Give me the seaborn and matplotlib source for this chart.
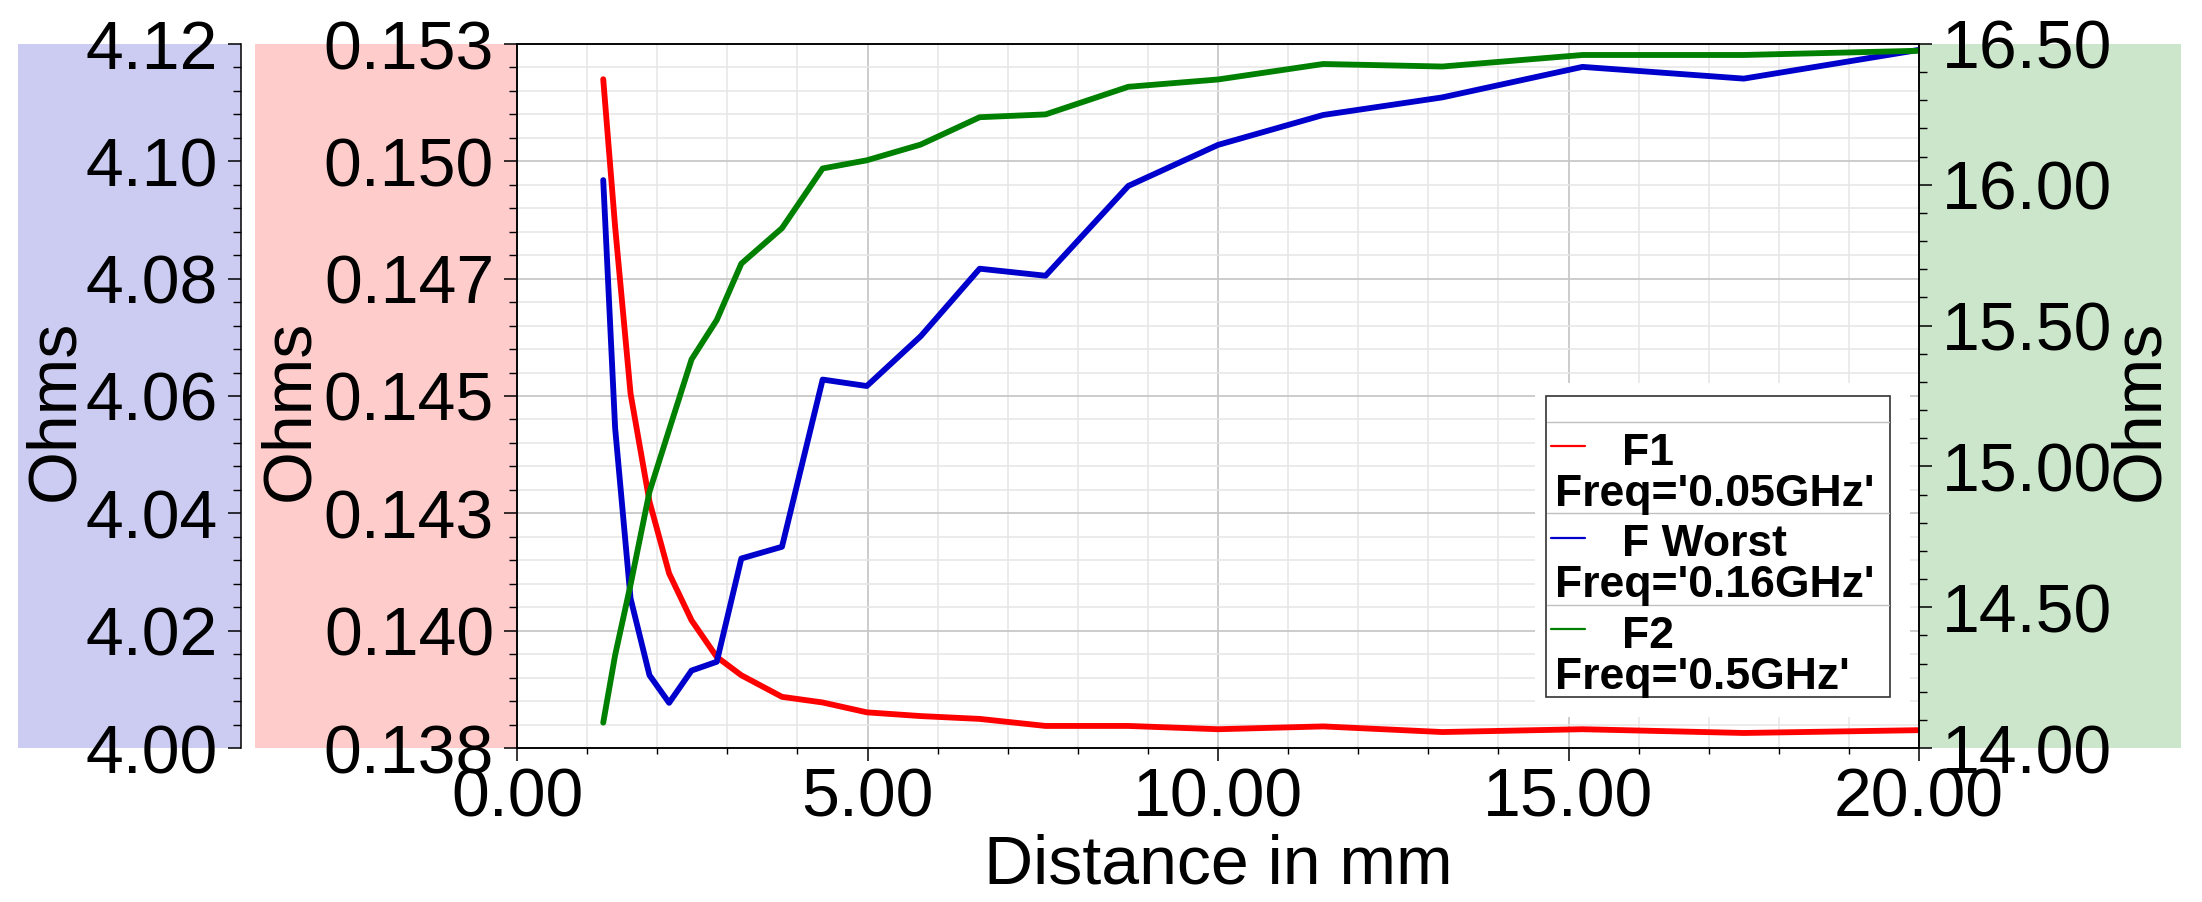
import numpy as np
import pandas as pd
import seaborn as sb
import matplotlib.pyplot as plt
from matplotlib.patches import Rectangle
from matplotlib.lines import Line2D
from matplotlib.ticker import FixedLocator, FixedFormatter, FormatStrFormatter

# distance sweep (mm) and the three impedance curves (Ohms)
distance = [1.23, 1.40, 1.62, 1.89, 2.17, 2.49, 2.85, 3.20, 3.78, 4.36, 4.99,
            5.76, 6.60, 7.54, 8.72, 10.0, 11.5, 13.2, 15.2, 17.5, 20.0]
f1_ohms = [0.15175, 0.14860, 0.14505, 0.14275, 0.14122, 0.14022, 0.13944,
           0.13905, 0.13859, 0.13847, 0.13826, 0.13818, 0.13812, 0.13797,
           0.13797, 0.13790, 0.13796, 0.13784, 0.13790, 0.13782, 0.13788]
fworst_ohms = [4.0968, 4.0545, 4.0255, 4.0124, 4.0077, 4.0132, 4.0147, 4.0323,
               4.0343, 4.0628, 4.0617, 4.0702, 4.0817, 4.0805, 4.0958, 4.1028,
               4.1079, 4.1109, 4.1161, 4.1141, 4.1190]
f2_ohms = [14.09, 14.33, 14.58, 14.91, 15.13, 15.38, 15.52, 15.72, 15.846,
           16.058, 16.087, 16.143, 16.24, 16.25, 16.348, 16.374, 16.429,
           16.42, 16.461, 16.461, 16.476]

legend_names = ["F1", "F Worst", "F2"]
legend_freqs = ["Freq='0.05GHz'", "Freq='0.16GHz'", "Freq='0.5GHz'"]
line_colors = ["#FF0000", "#0000CC", "#008000"]

red_labels = ["0.138", "0.140", "0.143", "0.145", "0.147", "0.150", "0.153"]

df = pd.DataFrame({"dist": distance, "f1": f1_ohms, "fw": fworst_ohms, "f2": f2_ohms})

sb.set_style("ticks")
plt.rcParams["font.family"] = ["Liberation Sans", "DejaVu Sans"]
plt.rcParams["text.color"] = "black"
plt.rcParams["axes.labelcolor"] = "black"
plt.rcParams["xtick.color"] = "black"
plt.rcParams["ytick.color"] = "black"

W, H = 2202, 902
L, R, T, B = 517, 1919, 44, 748

def fx(px):
    return px / W

def fy(py):
    return 1 - py / H

def axx(px):
    return (px - L) / (R - L)

def axy(py):
    return (B - py) / (B - T)

fig = plt.figure(figsize=(W / 100, H / 100), dpi=100)
ax = fig.add_axes([fx(L), fy(B), (R - L) / W, (B - T) / H])

# coloured panels behind the three y axes
for x0, x1, col in [(18, 241, "#CCCCF2"), (255, 517, "#FFCCCC"), (1919, 2181, "#CCE6CC")]:
    fig.add_artist(Rectangle((fx(x0), fy(B)), (x1 - x0) / W, (B - T) / H,
                             transform=fig.transFigure, facecolor=col,
                             edgecolor="none", zorder=-5))

ax_b = ax.twinx()
ax_g = ax.twinx()

sb.lineplot(data=df, x="dist", y="f1", ax=ax, color=line_colors[0], linewidth=4.2, legend=False)
sb.lineplot(data=df, x="dist", y="fw", ax=ax_b, color=line_colors[1], linewidth=4.2, legend=False)
sb.lineplot(data=df, x="dist", y="f2", ax=ax_g, color=line_colors[2], linewidth=4.2, legend=False)

fs = 49
tick_kw = dict(direction="out", colors="black", labelsize=fs)

# x axis
ax.set_xlim(0, 20)
ax.xaxis.set_major_locator(FixedLocator([0, 5, 10, 15, 20]))
ax.xaxis.set_minor_locator(FixedLocator(np.arange(0, 21, 1)))
ax.xaxis.set_major_formatter(FormatStrFormatter("%.2f"))
ax.tick_params(axis="x", which="major", length=9.5, width=1.1, pad=4, **tick_kw)
ax.tick_params(axis="x", which="minor", length=4.5, width=1.0, colors="black")
ax.set_xlabel("Distance in mm", fontsize=fs, labelpad=2, color="black")

# red axis (inner left)
ax.set_ylim(0.1375, 0.1525)
ax.yaxis.set_major_locator(FixedLocator(np.linspace(0.1375, 0.1525, 7)))
ax.yaxis.set_major_formatter(FixedFormatter(red_labels))
ax.yaxis.set_minor_locator(FixedLocator(np.linspace(0.1375, 0.1525, 31)))
ax.tick_params(axis="y", which="major", length=9.5, width=1.1, pad=7, **tick_kw)
ax.tick_params(axis="y", which="minor", length=5.5, width=1.0, colors="black")
ax.set_ylabel("Ohms", fontsize=fs, color="black")
ax.yaxis.set_label_coords(axx(322), axy(410))

ax.grid(which="major", color="#C8C8C8", lw=1.3)
ax.grid(which="minor", color="#E6E6E6", lw=1.1)
ax.set_axisbelow(True)

# blue axis (outer left)
ax_b.set_ylim(4.00, 4.12)
ax_b.yaxis.tick_left()
ax_b.yaxis.set_label_position("left")
ax_b.spines["left"].set_position(("axes", axx(241)))
ax_b.spines["left"].set_visible(True)
for s in ["right", "top", "bottom"]:
    ax_b.spines[s].set_visible(False)
ax_b.yaxis.set_major_locator(FixedLocator(np.linspace(4.0, 4.12, 7)))
ax_b.yaxis.set_minor_locator(FixedLocator(np.linspace(4.0, 4.12, 31)))
ax_b.yaxis.set_major_formatter(FormatStrFormatter("%.2f"))
ax_b.tick_params(axis="y", which="major", length=9.5, width=1.1, pad=7, **tick_kw)
ax_b.tick_params(axis="y", which="minor", length=5.5, width=1.0, colors="black")
ax_b.set_ylabel("Ohms", fontsize=fs, color="black")
ax_b.yaxis.set_label_coords(axx(87), axy(410))

# green axis (right)
ax_g.set_ylim(14.0, 16.5)
ax_g.yaxis.set_major_locator(FixedLocator(np.arange(14.0, 16.51, 0.5)))
ax_g.yaxis.set_minor_locator(FixedLocator(np.linspace(14.0, 16.5, 26)))
ax_g.yaxis.set_major_formatter(FormatStrFormatter("%.2f"))
ax_g.tick_params(axis="y", which="major", length=9.5, width=1.1, pad=7, **tick_kw)
ax_g.tick_params(axis="y", which="minor", length=5.5, width=1.0, colors="black")
ax_g.set_ylabel("Ohms", fontsize=fs, color="black")
ax_g.yaxis.set_label_coords(axx(2108), axy(410))

for a in [ax, ax_b, ax_g]:
    for s in a.spines.values():
        s.set_linewidth(1.1)
        s.set_color("black")

# legend box drawn by hand to match the two-line entries
tr = ax_g.transAxes
ax_g.add_patch(Rectangle((axx(1535), axy(717)), axx(1910) - axx(1535), axy(383) - axy(717),
                         transform=tr, facecolor="white", edgecolor="none", zorder=20, clip_on=False))
ax_g.add_patch(Rectangle((axx(1546), axy(697)), axx(1890) - axx(1546), axy(396) - axy(697),
                         transform=tr, facecolor="white", edgecolor="#333333", lw=1.2,
                         zorder=21, clip_on=False))
for py in [422, 513, 605]:
    ax_g.add_line(Line2D([axx(1547), axx(1889)], [axy(py), axy(py)], transform=tr,
                         color="#C0C0C0", lw=1.0, zorder=22, clip_on=False))
for i, (name, freq, col) in enumerate(zip(legend_names, legend_freqs, line_colors)):
    off = i * 91.5
    ax_g.add_line(Line2D([axx(1551), axx(1585)], [axy(446 + off)] * 2, transform=tr,
                         color=col, lw=1.6, zorder=23, clip_on=False))
    ax_g.text(axx(1622), axy(465 + off), name, transform=tr, fontsize=32, fontweight="bold",
              ha="left", va="baseline", zorder=23, color="black")
    ax_g.text(axx(1555), axy(506 + off), freq, transform=tr, fontsize=32, fontweight="bold",
              ha="left", va="baseline", zorder=23, color="black")

fig.savefig("out.png", dpi=100, facecolor="white")
